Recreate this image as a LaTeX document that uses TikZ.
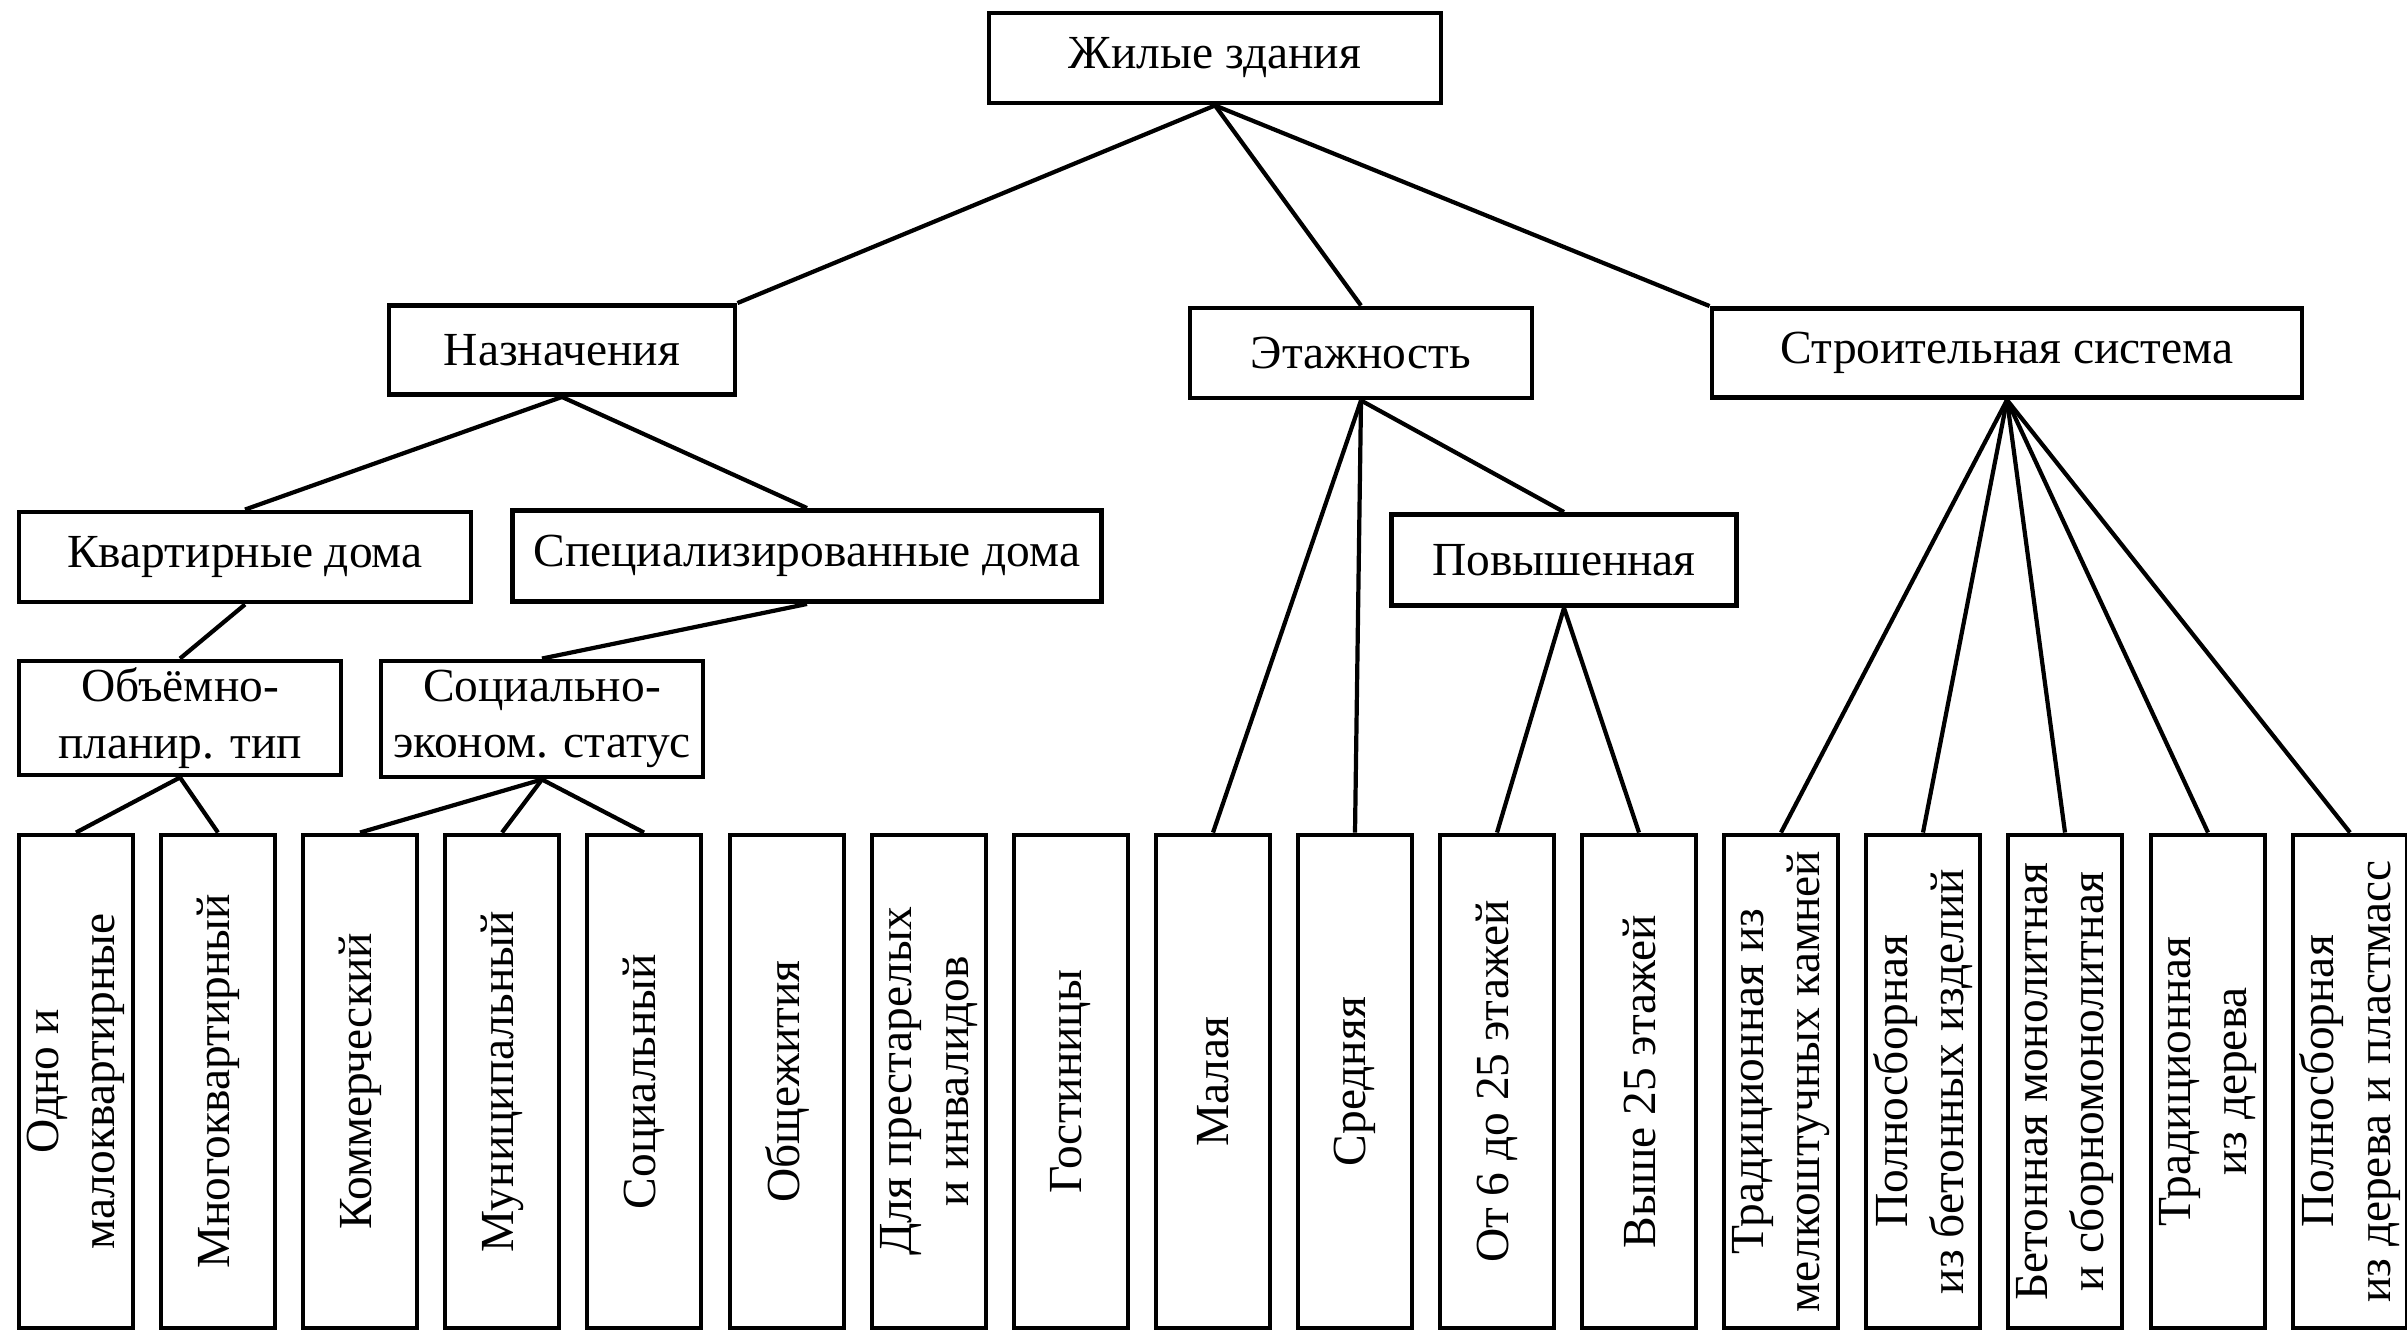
\documentclass[tikz,border=0pt]{standalone}
\usepackage{fontspec}
\setmainfont{Liberation Serif}
\usepackage{tikz}
\tikzset{
	box/.style 2 args={draw,line width=1.4pt,minimum width=#1,minimum height=#2,inner sep=1pt,align=center,font=\fontsize{13.5}{16}\selectfont},
	vbox/.style={box={4.93cm}{1.14cm},rotate=90}
}

\begin{document}
\begin{tikzpicture}[line width=1.2pt]
	\useasboundingbox (0,0) rectangle (24.07,-13.30);

	\node [box={4.52cm}{0.90cm}] (zhilye) at (12.15,-0.58) {Жилые здания};
	\node [box={3.46cm}{0.89cm}] (naznach) at (5.62,-3.50) {Назначения};
	\node [box={3.42cm}{0.90cm}] (etazh) at (13.61,-3.53) {Этажность};
	\node [box={5.90cm}{0.89cm}] (stroit) at (20.07,-3.53) {Строительная система};
	\node [box={4.52cm}{0.90cm}] (kvart) at (2.45,-5.57) {Квартирные дома};
	\node [box={5.89cm}{0.91cm}] (spec) at (8.07,-5.56) {Специализированные дома};
	\node [box={3.45cm}{0.91cm}] (povysh) at (15.64,-5.60) {Повышенная};
	\node [box={3.22cm}{1.14cm}] (obyom) at (1.80,-7.18) {Объёмно-\\планир. тип};
	\node [box={3.22cm}{1.16cm}] (social) at (5.42,-7.19) {Социально-\\эконом. статус};

	\node [vbox] (odno) at (0.76,-10.815) {Одно и\\малоквартирные};
	\node [vbox] (mnogo) at (2.18,-10.815) {Многоквартирный};
	\node [vbox] (kommerch) at (3.60,-10.815) {Коммерческий};
	\node [vbox] (munic) at (5.02,-10.815) {Муниципальный};
	\node [vbox] (socialn) at (6.44,-10.815) {Социальный};
	\node [vbox] (obshch) at (7.87,-10.815) {Общежития};
	\node [vbox] (prestar) at (9.29,-10.815) {Для престарелых\\и инвалидов};
	\node [vbox] (gostin) at (10.71,-10.815) {Гостиницы};
	\node [vbox] (malaya) at (12.13,-10.815) {Малая};
	\node [vbox] (srednyaya) at (13.55,-10.815) {Средняя};
	\node [vbox] (ot6) at (14.97,-10.815) {От 6 до 25 этажей};
	\node [vbox] (vyshe) at (16.39,-10.815) {Выше 25 этажей};
	\node [vbox] (tradkam) at (17.81,-10.815) {Традиционная из\\мелкоштучных камней};
	\node [vbox] (polnobet) at (19.23,-10.815) {Полносборная\\из бетонных изделий};
	\node [vbox] (beton) at (20.65,-10.815) {Бетонная монолитная\\и сборномонолитная};
	\node [vbox] (traddrev) at (22.08,-10.815) {Традиционная\\из дерева};
	\node [vbox] (polnoplast) at (23.50,-10.815) {Полносборная\\из дерева и пластмасс};

	\draw (zhilye.south) -- (naznach.north east);
	\draw (zhilye.south) -- (etazh.north);
	\draw (zhilye.south) -- (stroit.north west);
	\draw (naznach.south) -- (kvart.north);
	\draw (naznach.south) -- (spec.north);
	\draw (kvart.south) -- (obyom.north);
	\draw (spec.south) -- (social.north);
	\draw (obyom.south) -- (odno.east);
	\draw (obyom.south) -- (mnogo.east);
	\draw (social.south) -- (kommerch.east);
	\draw (social.south) -- (munic.east);
	\draw (social.south) -- (socialn.east);
	\draw (etazh.south) -- (malaya.east);
	\draw (etazh.south) -- (srednyaya.east);
	\draw (etazh.south) -- (povysh.north);
	\draw (povysh.south) -- (ot6.east);
	\draw (povysh.south) -- (vyshe.east);
	\draw (stroit.south) -- (tradkam.east);
	\draw (stroit.south) -- (polnobet.east);
	\draw (stroit.south) -- (beton.east);
	\draw (stroit.south) -- (traddrev.east);
	\draw (stroit.south) -- (polnoplast.east);
\end{tikzpicture}
\end{document}
